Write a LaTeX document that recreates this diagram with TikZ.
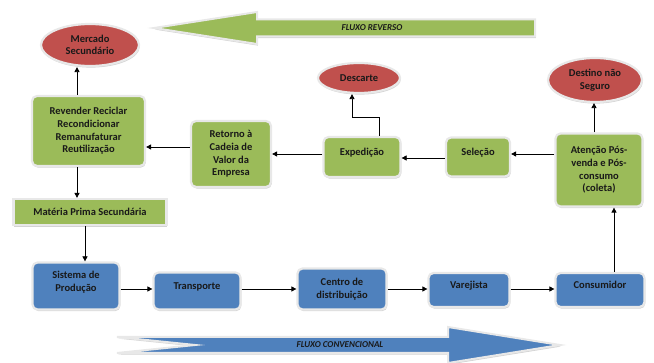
\documentclass[tikz,border=0pt]{standalone}
\usepackage{fontspec}
\setmainfont{Carlito}
\usetikzlibrary{shapes.geometric,arrows.meta,shadows}
\definecolor{grn}{HTML}{9BBB59}
\definecolor{redd}{HTML}{C0504D}
\definecolor{blu}{HTML}{4F81BD}
\definecolor{rim}{HTML}{E8E8E8}
\tikzset{
  base/.style={draw=rim, line width=2.2pt, font=\bfseries\fontsize{10.5}{12.6}\selectfont,
    text=black!90, align=center, inner sep=1pt,
    drop shadow={shadow xshift=0.8pt, shadow yshift=-1.6pt, opacity=0.35}},
  gbox/.style={base, fill=grn, rounded corners=5pt},
  bbox/.style={base, fill=blu, rounded corners=5pt},
  rell/.style={base, ellipse, fill=redd},
  up/.style={text depth=10pt},
  uptwo/.style={text depth=9pt},
  arr/.style={-{Triangle[length=5pt,width=5pt]}, line width=0.7pt},
  bigarrow/.style={draw=rim, line width=2pt, line join=miter,
    drop shadow={shadow xshift=0.8pt, shadow yshift=-1.6pt, opacity=0.35}},
  flux/.style={font=\bfseries\itshape\fontsize{9}{10}\selectfont, text=black!90, inner sep=0pt},
}
\begin{document}
\begin{tikzpicture}[x=1pt,y=-1pt]
\useasboundingbox (0,0) rectangle (654,363);
% big flow arrows
\draw[bigarrow, fill=grn] (535,19.5) -- (257,19.5) -- (257,12) -- (154,28) -- (257,44) -- (257,36.5) -- (535,36.5) -- cycle;
\node[flux] (fr) at (372,28) {FLUXO REVERSO};
\draw[bigarrow, fill=blu] (117,337) -- (448,337) -- (448,327) -- (560,345) -- (448,363) -- (448,353) -- (117,353) -- (195,345) -- cycle;
\node[flux] (fc) at (340,345) {FLUXO CONVENCIONAL};
% ellipses
\node[rell, minimum width=98pt, minimum height=42pt] (merc) at (90,45) {Mercado\\Secundário};
\node[rell, minimum width=82pt, minimum height=30pt] (desc) at (359,78) {Descarte};
\node[rell, minimum width=94pt, minimum height=44pt] (dest) at (595,80) {Destino não\\Seguro};
% green boxes
\node[gbox, minimum width=113pt, minimum height=70pt] (rev) at (88.5,131) {Revender Reciclar\\Recondicionar\\Remanufaturar\\Reutilização};
\node[gbox, minimum width=80pt, minimum height=66pt] (ret) at (231,154) {Retorno à\\Cadeia de\\Valor da\\Empresa};
\node[gbox, up, minimum width=77pt, minimum height=40pt] (exp) at (362,157) {Expedição};
\node[gbox, up, minimum width=64pt, minimum height=39pt] (sel) at (478,157) {Seleção};
\node[gbox, minimum width=87pt, minimum height=73pt] (aten) at (599,170) {Atenção Pós-\\venda e Pós-\\consumo\\(coleta)};
\node[gbox, rounded corners=0pt, minimum width=153pt, minimum height=26pt] (mat) at (90,212) {Matéria Prima Secundária};
% blue boxes
\node[bbox, uptwo, minimum width=87pt, minimum height=47pt] (sis) at (76,286) {Sistema de\\Produção};
\node[bbox, up, minimum width=87pt, minimum height=37pt] (tra) at (197,291) {Transporte};
\node[bbox, minimum width=89pt, minimum height=41pt] (cen) at (342,289) {Centro de\\distribuição};
\node[bbox, up, minimum width=81pt, minimum height=34pt] (var) at (469,290) {Varejista};
\node[bbox, up, minimum width=89pt, minimum height=34pt] (con) at (600,290) {Consumidor};
% helper coordinates
\coordinate (xa) at (77,0);
\coordinate (xb) at (85,0);
\coordinate (xc) at (594,0);
\coordinate (xd) at (614,0);
\coordinate (xe) at (379,0);
\coordinate (xf) at (352,0);
\coordinate (ya) at (0,147);
\coordinate (yb) at (0,154);
\coordinate (yc) at (0,158);
\coordinate (yd) at (0,117);
\coordinate (ye) at (0,289);
% connectors
\draw[arr] (xa |- rev.north) -- (xa |- merc.south);
\draw[arr] (xa |- rev.south) -- (xa |- mat.north);
\draw[arr] (xb |- mat.south) -- (xb |- sis.north);
\draw[arr] (ret.west |- ya) -- (rev.east |- ya);
\draw[arr] (exp.west |- yb) -- (ret.east |- yb);
\draw[arr] (sel.west |- yc) -- (exp.east |- yc);
\draw[arr] (aten.west |- yb) -- (sel.east |- yb);
\draw[arr] (xc |- aten.north) -- (xc |- dest.south);
\draw[arr] (xd |- con.north) -- (xd |- aten.south);
\draw[arr] (xe |- exp.north) -- (xe |- yd) -- (xf |- yd) -- (xf |- desc.south);
\draw[arr] (sis.east |- ye) -- (tra.west |- ye);
\draw[arr] (tra.east |- ye) -- (cen.west |- ye);
\draw[arr] (cen.east |- ye) -- (var.west |- ye);
\draw[arr] (var.east |- ye) -- (con.west |- ye);
\end{tikzpicture}
\end{document}
